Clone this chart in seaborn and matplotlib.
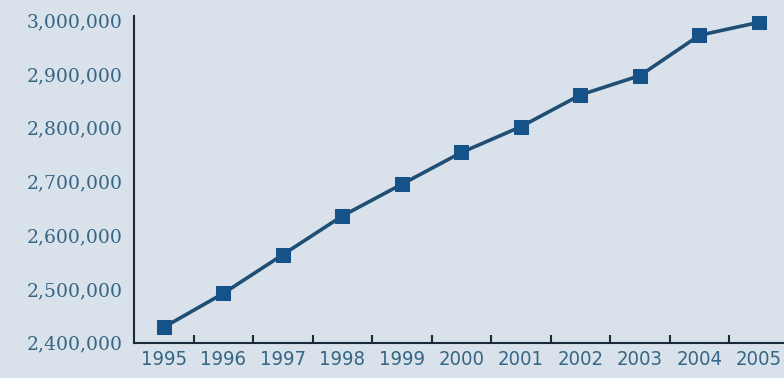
import matplotlib
matplotlib.use("Agg")
import matplotlib.pyplot as plt
import seaborn as sns
import pandas as pd
from matplotlib.ticker import FuncFormatter, FixedLocator

years = [1995, 1996, 1997, 1998, 1999, 2000, 2001, 2002, 2003, 2004, 2005]
values = [2429000, 2492000, 2564000, 2636000, 2695000, 2754000, 2802000, 2861000, 2897000, 2972000, 2996000]
y_ticks = [2400000, 2500000, 2600000, 2700000, 2800000, 2900000, 3000000]

df = pd.DataFrame({"year": years, "value": values})

sns.set_style("white")
bg = "#d9e1ea"
text_c = "#356685"
fig = plt.figure(figsize=(7.84, 3.78), dpi=100, facecolor=bg)
ax = fig.add_axes([0.171, 0.093, 0.829, 0.865])
ax.set_facecolor(bg)

sns.lineplot(data=df, x="year", y="value", ax=ax, color="#1f4f74", linewidth=2.6,
             marker="s", markersize=10, markerfacecolor="#15528a", markeredgecolor="#15528a")

ax.set_xlim(1994.5, 2005.42)
ax.set_ylim(2400000, 3008000)
ax.set_xlabel("")
ax.set_ylabel("")

ax.xaxis.set_major_locator(FixedLocator(years))
ax.set_xticklabels([str(y) for y in years], family=["DejaVu Sans"], stretch="condensed",
                   fontsize=14.5, color=text_c)
ax.xaxis.set_minor_locator(FixedLocator([y + 0.5 for y in years[:-1]]))
ax.tick_params(axis="x", which="major", length=0, pad=5)
ax.tick_params(axis="x", which="minor", length=6, width=1.5, direction="in", color="#1a2a3a", bottom=True)

ax.yaxis.set_major_locator(FixedLocator(y_ticks))
ax.yaxis.set_major_formatter(FuncFormatter(lambda v, p: f"{int(v):,}"))
for lab in ax.get_yticklabels():
    lab.set_family(["DejaVu Serif"])
    lab.set_fontsize(13.5)
    lab.set_color(text_c)
ax.tick_params(axis="y", length=0, pad=8)

for s in ["top", "right"]:
    ax.spines[s].set_visible(False)
for s in ["left", "bottom"]:
    ax.spines[s].set_color("#1a2a3a")
    ax.spines[s].set_linewidth(1.5)

fig.savefig("out.png", dpi=100, facecolor=bg)
